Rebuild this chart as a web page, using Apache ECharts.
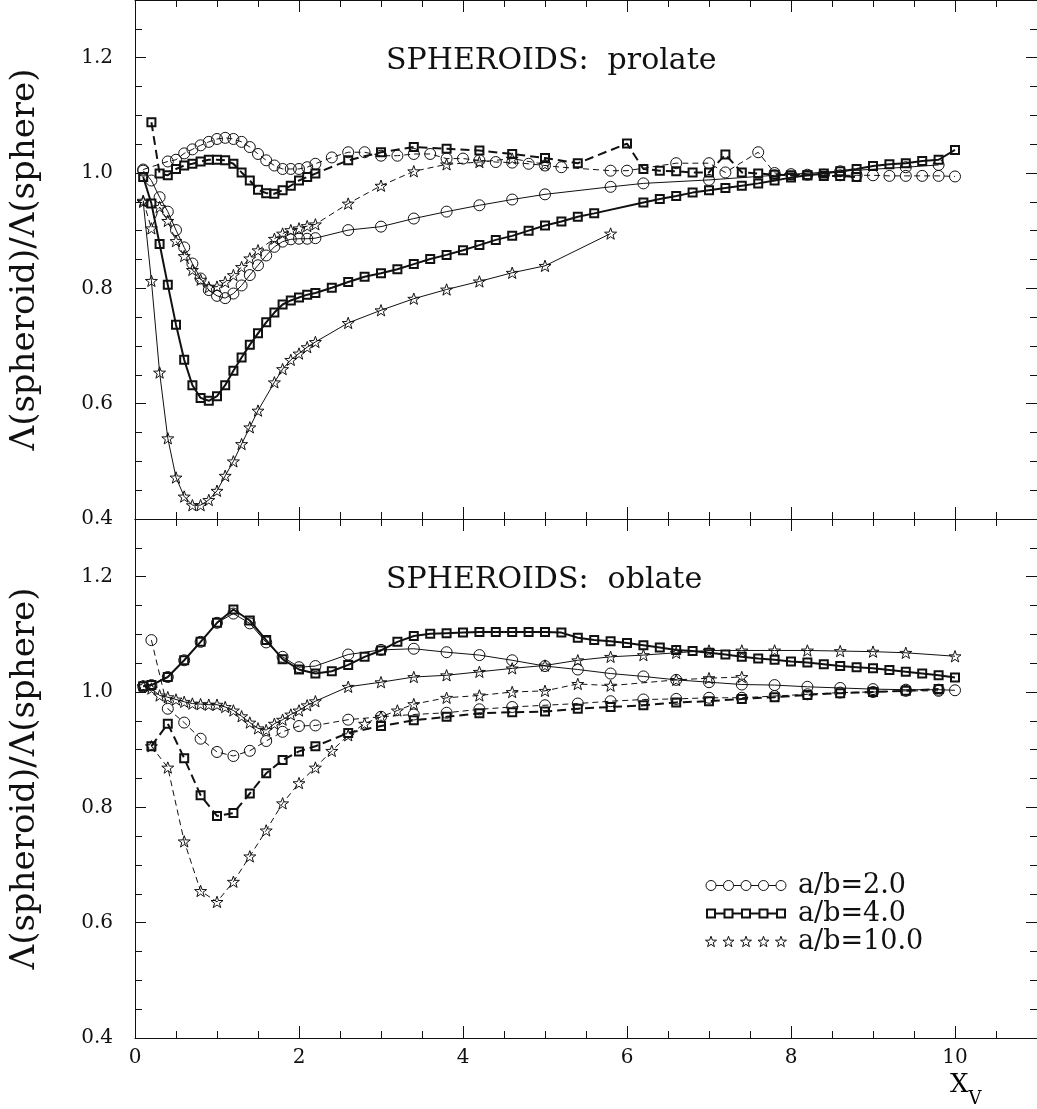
<!DOCTYPE html>
<html>
<head>
<meta charset="utf-8">
<script src="https://cdn.jsdelivr.net/npm/echarts@6/dist/echarts.min.js"></script>
<style>
  html, body { margin: 0; padding: 0; background: #fff; }
  #chart { width: 1037px; height: 1109px; }
</style>
</head>
<body>
<div id="chart"></div>
<script>
// ---------------- DATA ----------------
// Prolate spheroids (upper panel)
const P2_solid_x = [0.1,0.2,0.3,0.4,0.5,0.6,0.7,0.8,0.9,1.0,1.1,1.2,1.3,1.4,1.5,1.6,1.7,1.8,1.9,2.0,2.1,2.2,2.6,3.0,3.4,3.8,4.2,4.6,5.0,5.8,6.2,7.0,7.8,8.6,9.4,9.8];
const P2_solid_y = [1.004,0.987,0.958,0.933,0.901,0.871,0.843,0.817,0.797,0.787,0.783,0.791,0.805,0.823,0.840,0.857,0.872,0.881,0.885,0.886,0.886,0.887,0.901,0.907,0.921,0.933,0.944,0.954,0.963,0.976,0.982,0.988,0.996,1.003,1.010,1.014];

const P2_dash_x = [0.1,0.4,0.5,0.6,0.7,0.8,0.9,1.0,1.1,1.2,1.3,1.4,1.5,1.6,1.7,1.8,1.9,2.0,2.1,2.2,2.4,2.6,2.8,3.0,3.2,3.4,3.6,3.8,4.0,4.2,4.4,4.6,4.8,5.0,5.2,5.8,6.0,6.6,7.0,7.2,7.6,7.8,8.0,8.2,8.4,8.6,8.8,9.0,9.2,9.4,9.6,9.8,10.0];
const P2_dash_y = [1.006,1.020,1.023,1.034,1.041,1.048,1.054,1.059,1.061,1.059,1.054,1.045,1.033,1.022,1.013,1.007,1.007,1.007,1.010,1.016,1.027,1.036,1.036,1.030,1.030,1.033,1.033,1.025,1.025,1.022,1.019,1.018,1.016,1.013,1.010,1.004,1.004,1.017,1.017,1.001,1.036,1.000,0.998,0.997,0.997,0.996,0.996,0.996,0.995,0.995,0.995,0.995,0.994];

const P4_solid_x = [0.1,0.2,0.3,0.4,0.5,0.6,0.7,0.8,0.9,1.0,1.1,1.2,1.3,1.4,1.5,1.6,1.7,1.8,1.9,2.0,2.1,2.2,2.4,2.6,2.8,3.0,3.2,3.4,3.6,3.8,4.0,4.2,4.4,4.6,4.8,5.0,5.2,5.4,5.6,6.2,6.4,6.6,6.8,7.0,7.2,7.4,7.6,7.8,8.0,8.2,8.4,8.6,8.8,9.0,9.2,9.4,9.6,9.8,10.0];
const P4_solid_y = [0.993,0.947,0.877,0.806,0.737,0.676,0.632,0.610,0.605,0.613,0.632,0.657,0.680,0.702,0.722,0.741,0.758,0.772,0.779,0.784,0.789,0.792,0.801,0.811,0.820,0.826,0.833,0.842,0.851,0.858,0.866,0.875,0.884,0.891,0.900,0.909,0.916,0.924,0.930,0.949,0.955,0.960,0.966,0.970,0.974,0.978,0.982,0.987,0.992,0.996,0.999,1.003,1.007,1.012,1.015,1.017,1.021,1.023,1.040];

const P4_dash_x = [0.2,0.3,0.4,0.5,0.6,0.7,0.8,0.9,1.0,1.1,1.2,1.3,1.4,1.5,1.6,1.7,1.8,1.9,2.0,2.1,2.2,2.6,3.0,3.4,3.8,4.2,4.6,5.0,5.4,6.0,6.2,6.4,6.6,6.8,7.0,7.2,7.4,7.6,7.8,8.0,8.2,8.4,8.6,8.8];
const P4_dash_y = [1.088,0.999,0.996,1.007,1.013,1.016,1.020,1.023,1.023,1.022,1.016,1.001,0.987,0.971,0.965,0.964,0.970,0.978,0.987,0.993,0.999,1.022,1.036,1.045,1.042,1.039,1.033,1.026,1.017,1.051,1.007,1.004,1.003,1.001,1.001,1.032,1.001,0.999,0.997,0.996,0.996,0.995,0.995,0.993];

const P10_solid_x = [0.1,0.2,0.3,0.4,0.5,0.6,0.7,0.8,0.9,1.0,1.1,1.2,1.3,1.4,1.5,1.7,1.8,1.9,2.0,2.1,2.2,2.6,3.0,3.4,3.8,4.2,4.6,5.0,5.8];
const P10_solid_y = [0.950,0.813,0.654,0.540,0.472,0.439,0.424,0.424,0.433,0.449,0.475,0.500,0.530,0.559,0.588,0.637,0.660,0.676,0.687,0.698,0.707,0.740,0.762,0.782,0.798,0.812,0.827,0.839,0.895];

const P10_dash_x = [0.1,0.2,0.3,0.4,0.5,0.6,0.7,0.8,0.9,1.0,1.1,1.2,1.3,1.4,1.5,1.7,1.8,1.9,2.0,2.1,2.2,2.6,3.0,3.4,3.8,4.2,4.6,5.0];
const P10_dash_y = [0.952,0.904,0.941,0.917,0.882,0.856,0.832,0.815,0.802,0.803,0.811,0.823,0.837,0.852,0.866,0.886,0.895,0.901,0.904,0.908,0.911,0.947,0.978,1.003,1.015,1.019,1.025,1.015];

// Oblate spheroids (lower panel)
const O2_solid_x = [0.1,0.2,0.4,0.6,0.8,1.0,1.2,1.4,1.6,1.8,2.0,2.2,2.6,3.0,3.4,3.8,4.2,4.6,5.0,5.4,5.8,6.2,6.6,7.0,7.4,7.8,8.2,8.6,9.0,9.4,9.8,10.0];
const O2_solid_y = [1.010,1.012,1.026,1.055,1.087,1.120,1.136,1.119,1.086,1.061,1.043,1.045,1.065,1.073,1.075,1.069,1.064,1.055,1.045,1.039,1.032,1.027,1.021,1.017,1.013,1.012,1.009,1.007,1.005,1.004,1.004,1.003];

const O2_dash_x = [0.2,0.4,0.6,0.8,1.0,1.2,1.4,1.6,1.8,2.0,2.2,2.6,3.0,3.4,3.8,4.2,4.6,5.0,5.4,5.8,6.2,6.6,7.0,7.4,7.8,8.2,8.6,9.0,9.4,9.8];
const O2_dash_y = [1.090,0.971,0.947,0.919,0.896,0.889,0.898,0.915,0.931,0.941,0.942,0.952,0.957,0.961,0.964,0.970,0.974,0.977,0.980,0.984,0.987,0.988,0.990,0.990,0.993,0.996,0.999,1.000,1.002,1.002];

const O4_solid_x = [0.1,0.2,0.4,0.6,0.8,1.0,1.2,1.4,1.6,1.8,2.0,2.2,2.4,2.6,2.8,3.0,3.2,3.4,3.6,3.8,4.0,4.2,4.4,4.6,4.8,5.0,5.2,5.4,5.6,5.8,6.0,6.2,6.4,6.6,6.8,7.0,7.2,7.4,7.6,7.8,8.0,8.2,8.4,8.6,8.8,9.0,9.2,9.4,9.6,9.8,10.0];
const O4_solid_y = [1.010,1.012,1.026,1.055,1.087,1.120,1.143,1.124,1.090,1.057,1.039,1.032,1.036,1.047,1.061,1.072,1.087,1.097,1.101,1.102,1.103,1.104,1.104,1.104,1.104,1.104,1.103,1.094,1.090,1.088,1.085,1.081,1.077,1.073,1.071,1.068,1.065,1.061,1.058,1.056,1.053,1.051,1.048,1.045,1.043,1.041,1.038,1.035,1.032,1.029,1.025];

const O4_dash_x = [0.2,0.4,0.6,0.8,1.0,1.2,1.4,1.6,1.8,2.0,2.2,2.6,3.0,3.4,3.8,4.2,4.6,5.0,5.4,5.8,6.2,6.6,7.0,7.4,7.8,8.2,8.6,9.0,9.4,9.8];
const O4_dash_y = [0.906,0.945,0.885,0.821,0.785,0.790,0.824,0.859,0.882,0.897,0.906,0.929,0.941,0.951,0.957,0.963,0.965,0.966,0.971,0.974,0.977,0.982,0.984,0.988,0.991,0.995,0.998,1.000,1.002,1.005];

const O10_solid_x = [0.1,0.2,0.3,0.4,0.5,0.6,0.7,0.8,0.9,1.0,1.1,1.2,1.3,1.4,1.5,1.6,1.7,1.8,1.9,2.0,2.1,2.2,2.6,3.0,3.4,3.8,4.2,4.6,5.0,5.4,5.8,6.2,6.6,7.0,7.4,7.8,8.2,8.6,9.0,9.4,10.0];
const O10_solid_y = [1.010,1.006,0.994,0.991,0.987,0.983,0.980,0.979,0.978,0.978,0.974,0.968,0.958,0.947,0.937,0.934,0.945,0.952,0.961,0.968,0.977,0.984,1.009,1.017,1.026,1.029,1.035,1.041,1.046,1.055,1.061,1.064,1.068,1.072,1.072,1.072,1.072,1.071,1.070,1.068,1.062];

const O10_dash_x = [0.2,0.4,0.6,0.8,1.0,1.2,1.4,1.6,1.8,2.0,2.2,2.4,2.6,2.8,3.0,3.2,3.4,3.8,4.2,4.6,5.0,5.4,5.8,6.6,7.0,7.4];
const O10_dash_y = [0.906,0.869,0.741,0.655,0.636,0.671,0.715,0.760,0.807,0.842,0.869,0.898,0.925,0.945,0.957,0.968,0.979,0.990,0.994,1.000,1.002,1.014,1.011,1.021,1.024,1.026];

const X_TICK_LABELS = ['0','2','4','6','8','10'];
const Y_TICK_LABELS = ['0.4','0.6','0.8','1.0','1.2'];
const LEGEND_NAMES = ['a/b=2.0','a/b=4.0','a/b=10.0'];
const PANEL_TITLES = ['SPHEROIDS:  prolate','SPHEROIDS:  oblate'];
const Y_NAME = 'Λ(spheroid)/Λ(sphere)';

// ---------------- CHART ----------------
const FONT = 'DejaVu Serif';
const INK = '#111';
const STAR = 'path://M0,-10 L2.35,-3.24 L9.51,-3.09 L3.8,1.24 L5.88,8.09 L0,4 L-5.88,8.09 L-3.8,1.24 L-9.51,-3.09 L-2.35,-3.24 Z';

const chart = echarts.init(document.getElementById('chart'), null, {renderer: 'canvas'});

const GRID_TOP = [0, 519];
const GRID_H = 519;

const xAxes = [], yAxes = [];
for (let g = 0; g < 2; g++) {
  const common = {gridIndex: g, type: 'value', min: 0, max: 11, splitLine: {show: false}};
  xAxes.push(Object.assign({}, common, {
    position: 'bottom', interval: 2,
    axisLine: {show: true, onZero: false, lineStyle: {color: INK, width: 1}},
    axisTick: {show: true, inside: true, length: 12, lineStyle: {color: INK}},
    axisLabel: {show: g === 1, showMaxLabel: false, margin: 10, color: INK, fontFamily: FONT, fontSize: 20,
      formatter: v => X_TICK_LABELS[Math.round(v / 2)] ?? ''}
  }));
  xAxes.push(Object.assign({}, common, {
    position: 'bottom', interval: 0.5,
    axisLine: {show: false, onZero: false}, axisLabel: {show: false},
    axisTick: {show: true, inside: true, length: 7, lineStyle: {color: INK}}
  }));
  xAxes.push(Object.assign({}, common, {
    position: 'top', interval: 2,
    axisLine: {show: true, onZero: false, lineStyle: {color: INK, width: 1}},
    axisTick: {show: true, inside: true, length: 12, lineStyle: {color: INK}},
    axisLabel: {show: false}
  }));
  xAxes.push(Object.assign({}, common, {
    position: 'top', interval: 0.5,
    axisLine: {show: false, onZero: false}, axisLabel: {show: false},
    axisTick: {show: true, inside: true, length: 7, lineStyle: {color: INK}}
  }));

  const yc = {gridIndex: g, type: 'value', min: 0.4, max: 1.3, splitLine: {show: false}};
  yAxes.push(Object.assign({}, yc, {
    position: 'left', interval: 0.2,
    axisLine: {show: true, onZero: false, lineStyle: {color: INK, width: 1}},
    axisTick: {show: true, inside: true, length: 11, lineStyle: {color: INK}},
    axisLabel: {show: true, showMaxLabel: false, margin: 22, color: INK, fontFamily: FONT, fontSize: 20,
      formatter: v => Y_TICK_LABELS[Math.round((v - 0.4) / 0.2)] ?? ''},
    name: Y_NAME, nameLocation: 'middle', nameGap: 93,
    nameTextStyle: {fontFamily: FONT, fontSize: 34, color: INK}
  }));
  yAxes.push(Object.assign({}, yc, {
    position: 'left', interval: 0.05,
    axisLine: {show: false, onZero: false}, axisLabel: {show: false},
    axisTick: {show: true, inside: true, length: 7, lineStyle: {color: INK}}
  }));
  yAxes.push(Object.assign({}, yc, {
    position: 'right', interval: 0.2,
    axisLine: {show: true, onZero: false, lineStyle: {color: INK, width: 1}},
    axisTick: {show: true, inside: true, length: 11, lineStyle: {color: INK}},
    axisLabel: {show: false}
  }));
  yAxes.push(Object.assign({}, yc, {
    position: 'right', interval: 0.05,
    axisLine: {show: false, onZero: false}, axisLabel: {show: false},
    axisTick: {show: true, inside: true, length: 7, lineStyle: {color: INK}}
  }));
}

const STYLE = {
  c: {symbol: 'circle', symbolSize: 11, bw: 1, lw: 1, dash: [6, 4]},
  s: {symbol: 'rect', symbolSize: 8, bw: 2, lw: 2, dash: [9, 5]},
  t: {symbol: STAR, symbolSize: 12, bw: 1, lw: 1, dash: [6, 4]}
};

function mk(name, xs, ys, g, kind, dashed) {
  const st = STYLE[kind];
  return {
    type: 'line', name: name,
    xAxisIndex: g * 4, yAxisIndex: g * 4,
    data: xs.map((x, i) => [x, ys[i]]),
    symbol: st.symbol, symbolSize: st.symbolSize, symbolKeepAspect: true,
    showAllSymbol: true, animation: false, silent: true,
    itemStyle: {color: 'rgba(0,0,0,0)', borderColor: INK, borderWidth: st.bw},
    lineStyle: {color: INK, width: st.lw, type: dashed ? st.dash : 'solid'},
    emphasis: {disabled: true}
  };
}

const series = [
  mk(LEGEND_NAMES[0], P2_solid_x, P2_solid_y, 0, 'c', false),
  mk(LEGEND_NAMES[0], P2_dash_x, P2_dash_y, 0, 'c', true),
  mk(LEGEND_NAMES[1], P4_solid_x, P4_solid_y, 0, 's', false),
  mk(LEGEND_NAMES[1], P4_dash_x, P4_dash_y, 0, 's', true),
  mk(LEGEND_NAMES[2], P10_solid_x, P10_solid_y, 0, 't', false),
  mk(LEGEND_NAMES[2], P10_dash_x, P10_dash_y, 0, 't', true),
  mk(LEGEND_NAMES[0], O2_solid_x, O2_solid_y, 1, 'c', false),
  mk(LEGEND_NAMES[0], O2_dash_x, O2_dash_y, 1, 'c', true),
  mk(LEGEND_NAMES[1], O4_solid_x, O4_solid_y, 1, 's', false),
  mk(LEGEND_NAMES[1], O4_dash_x, O4_dash_y, 1, 's', true),
  mk(LEGEND_NAMES[2], O10_solid_x, O10_solid_y, 1, 't', false),
  mk(LEGEND_NAMES[2], O10_dash_x, O10_dash_y, 1, 't', true)
];

// legend icons: five markers joined by short lines (icon geometry only)
function circleIcon() {
  let d = '';
  for (let k = 0; k < 5; k++) {
    const cx = 6 + 17.5 * k;
    d += `M${cx - 5},6 A5,5 0 1,1 ${cx + 5},6 A5,5 0 1,1 ${cx - 5},6 Z `;
    if (k < 4) d += `M${cx + 5},6 L${cx + 12.5},6 `;
  }
  return 'path://' + d + 'M0,0 M82,12';
}
function squareIcon() {
  let d = '';
  for (let k = 0; k < 5; k++) {
    const cx = 6 + 17.5 * k;
    d += `M${cx - 4},2 L${cx + 4},2 L${cx + 4},10 L${cx - 4},10 Z `;
    if (k < 4) d += `M${cx + 4},6 L${cx + 13.5},6 `;
  }
  return 'path://' + d + 'M0,0 M82,12';
}
function starIcon() {
  const pts = [[0,-10],[2.35,-3.24],[9.51,-3.09],[3.8,1.24],[5.88,8.09],[0,4],[-5.88,8.09],[-3.8,1.24],[-9.51,-3.09],[-2.35,-3.24]];
  let d = '';
  for (let k = 0; k < 5; k++) {
    const cx = 6 + 17.5 * k, cy = 6.5, s = 0.58;
    pts.forEach((p, i) => { d += (i === 0 ? 'M' : 'L') + (cx + p[0] * s).toFixed(2) + ',' + (cy + p[1] * s).toFixed(2) + ' '; });
    d += 'Z ';
  }
  return 'path://' + d + 'M0,0 M82,12';
}

const option = {
  backgroundColor: '#fff',
  animation: false,
  grid: [
    {left: 130, right: 0, top: GRID_TOP[0], height: GRID_H, containLabel: false},
    {left: 130, right: 0, top: GRID_TOP[1], height: GRID_H, containLabel: false}
  ],
  xAxis: xAxes,
  yAxis: yAxes,
  title: [
    {text: PANEL_TITLES[0], left: 386, top: 46, padding: 0,
     textStyle: {fontFamily: FONT, fontSize: 30, fontWeight: 'normal', color: INK}},
    {text: PANEL_TITLES[1], left: 386, top: 565, padding: 0,
     textStyle: {fontFamily: FONT, fontSize: 30, fontWeight: 'normal', color: INK}}
  ],
  legend: {
    orient: 'vertical', left: 704, top: 872, padding: 0,
    itemWidth: 82, itemHeight: 12, itemGap: 1, selectedMode: false,
    textStyle: {fontFamily: FONT, fontSize: 27, color: INK, lineHeight: 26, padding: [0, 0, 0, 6]},
    data: [
      {name: LEGEND_NAMES[0], icon: circleIcon(), itemStyle: {color: 'rgba(0,0,0,0)', borderColor: INK, borderWidth: 1}},
      {name: LEGEND_NAMES[1], icon: squareIcon(), itemStyle: {color: 'rgba(0,0,0,0)', borderColor: INK, borderWidth: 2}},
      {name: LEGEND_NAMES[2], icon: starIcon(), itemStyle: {color: 'rgba(0,0,0,0)', borderColor: INK, borderWidth: 1}}
    ]
  },
  graphic: [
    {type: 'text', left: 950, top: 1072, silent: true,
     style: {text: '{a|X}{b|V}', rich: {
       a: {fontFamily: FONT, fontSize: 26, color: INK, lineHeight: 28, verticalAlign: 'top'},
       b: {fontFamily: FONT, fontSize: 18, color: INK, lineHeight: 36, verticalAlign: 'bottom'}
     }}}
  ],
  series: series
};

chart.setOption(option);
</script>
</body>
</html>
